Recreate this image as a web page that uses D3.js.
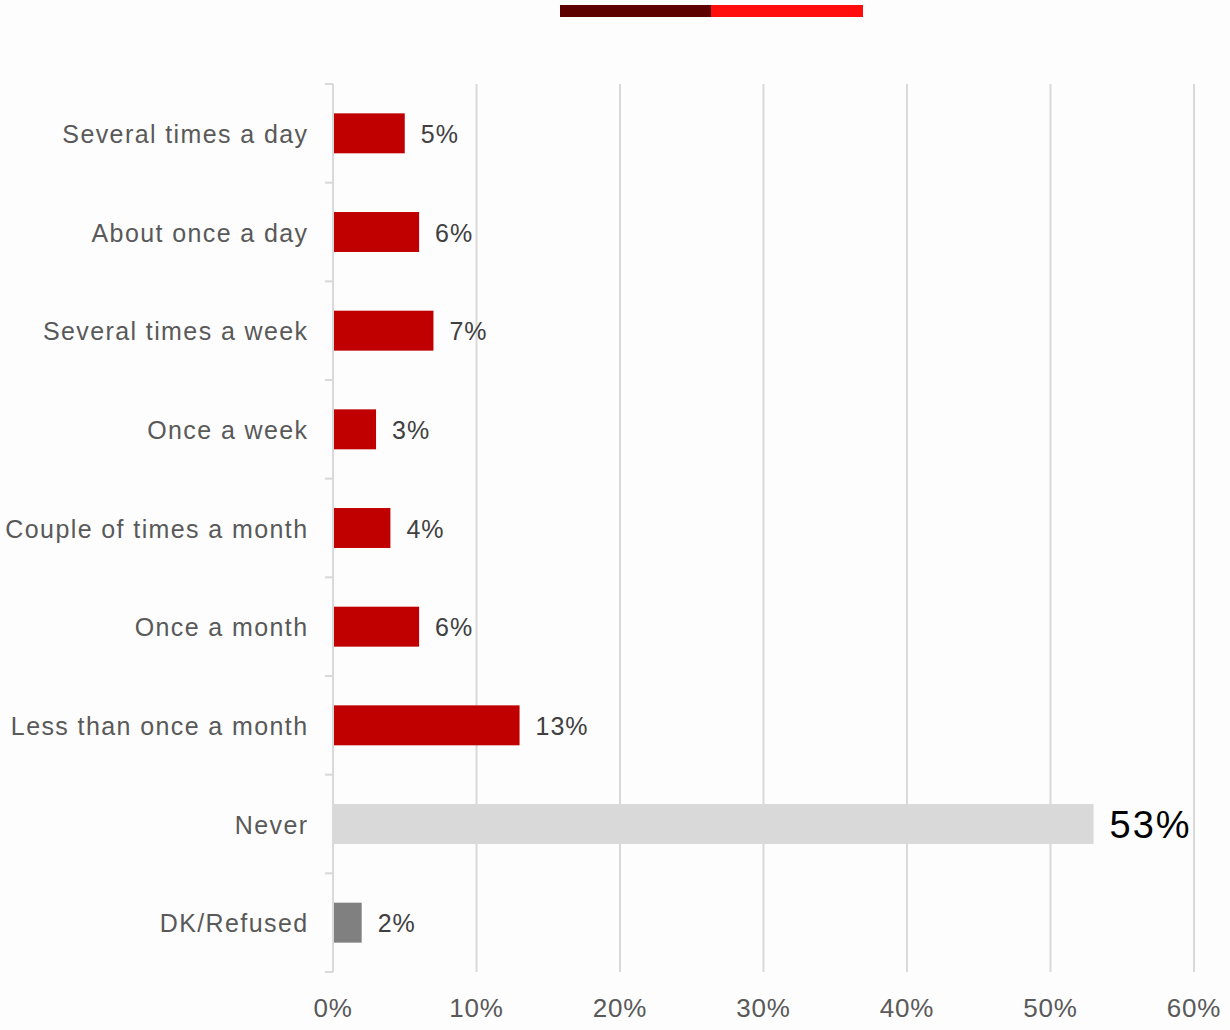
<!DOCTYPE html>
<html>
<head>
<meta charset="utf-8">
<script src="https://cdn.jsdelivr.net/npm/d3@7"></script>
<style>
  body { margin: 0; background: #fdfdfd; }
  svg text { font-family: "Liberation Sans", Arial, sans-serif; }
</style>
</head>
<body>
<div id="chart-area"></div>
<script>
// data
var categories = ["Several times a day", "About once a day", "Several times a week", "Once a week",
    "Couple of times a month", "Once a month", "Less than once a month", "Never", "DK/Refused"];
var values = [5, 6, 7, 3, 4, 6, 13, 53, 2];
var barColours = ["#c00000", "#c00000", "#c00000", "#c00000", "#c00000", "#c00000", "#c00000", "#d9d9d9", "#808080"];
var xTicks = [0, 10, 20, 30, 40, 50, 60];

var svgWidth = 1230, svgHeight = 1030;
var margin = { left: 333, right: 36, top: 84, bottom: 58 };

var svg = d3.select("#chart-area").append("svg")
    .attr("width", svgWidth)
    .attr("height", svgHeight);

// top decoration
svg.append("rect").attr("x", 560).attr("y", 5).attr("width", 151).attr("height", 12).attr("fill", "#5c0000");
svg.append("rect").attr("x", 711).attr("y", 5).attr("width", 152).attr("height", 12).attr("fill", "#ff0d0d");

var x = d3.scaleLinear()
    .domain([0, 60])
    .range([margin.left, svgWidth - margin.right]);

var y = d3.scaleBand()
    .domain(categories)
    .range([margin.top, svgHeight - margin.bottom])
    .paddingInner(0.595)
    .paddingOuter(0.2975);

var bottom = svgHeight - margin.bottom;

// gridlines
svg.append("g").selectAll("line")
    .data(xTicks.slice(1))
    .enter().append("line")
    .attr("x1", function(d) { return x(d); })
    .attr("x2", function(d) { return x(d); })
    .attr("y1", margin.top)
    .attr("y2", bottom)
    .attr("stroke", "#d9d9d9")
    .attr("stroke-width", 2);

// x tick labels
svg.append("g").selectAll("text")
    .data(xTicks)
    .enter().append("text")
    .attr("x", function(d) { return x(d); })
    .attr("y", 1017)
    .attr("text-anchor", "middle")
    .attr("font-size", 26)
    .attr("letter-spacing", 0.8)
    .attr("fill", "#595959")
    .text(function(d) { return d + "%"; });

// left axis line + category separator ticks
svg.append("line")
    .attr("x1", x(0)).attr("x2", x(0))
    .attr("y1", margin.top).attr("y2", bottom)
    .attr("stroke", "#d9d9d9").attr("stroke-width", 2);

var step = y.step();
svg.append("g").selectAll("line")
    .data(d3.range(categories.length + 1))
    .enter().append("line")
    .attr("x1", x(0) - 8).attr("x2", x(0))
    .attr("y1", function(i) { return margin.top + i * step; })
    .attr("y2", function(i) { return margin.top + i * step; })
    .attr("stroke", "#d9d9d9").attr("stroke-width", 2);

// bars
var rows = categories.map(function(c, i) { return { cat: c, value: values[i], colour: barColours[i] }; });

svg.append("g").selectAll("rect")
    .data(rows)
    .enter().append("rect")
    .attr("x", x(0) + 1)
    .attr("y", function(d) { return y(d.cat); })
    .attr("width", function(d) { return x(d.value) - x(0) - 1; })
    .attr("height", y.bandwidth())
    .attr("fill", function(d) { return d.colour; });

// category labels (letter-spacing leaves a trailing gap, so shift right a touch)
svg.append("g").selectAll("text")
    .data(rows)
    .enter().append("text")
    .attr("x", 308.5)
    .attr("y", function(d) { return y(d.cat) + y.bandwidth() / 2 + 1; })
    .attr("dy", "0.35em")
    .attr("text-anchor", "end")
    .attr("font-size", 25)
    .attr("letter-spacing", 1.4)
    .attr("fill", "#595959")
    .text(function(d) { return d.cat; });

// value labels
svg.append("g").selectAll("text")
    .data(rows)
    .enter().append("text")
    .attr("x", function(d) { return x(d.value) + 16; })
    .attr("y", function(d) { return y(d.cat) + y.bandwidth() / 2 + 1; })
    .attr("dy", "0.35em")
    .attr("font-size", function(d) { return d.value > 50 ? 38 : 25; })
    .attr("letter-spacing", function(d) { return d.value > 50 ? 2 : 1; })
    .attr("fill", function(d) { return d.value > 50 ? "#000000" : "#404040"; })
    .text(function(d) { return d.value + "%"; });
</script>
</body>
</html>
